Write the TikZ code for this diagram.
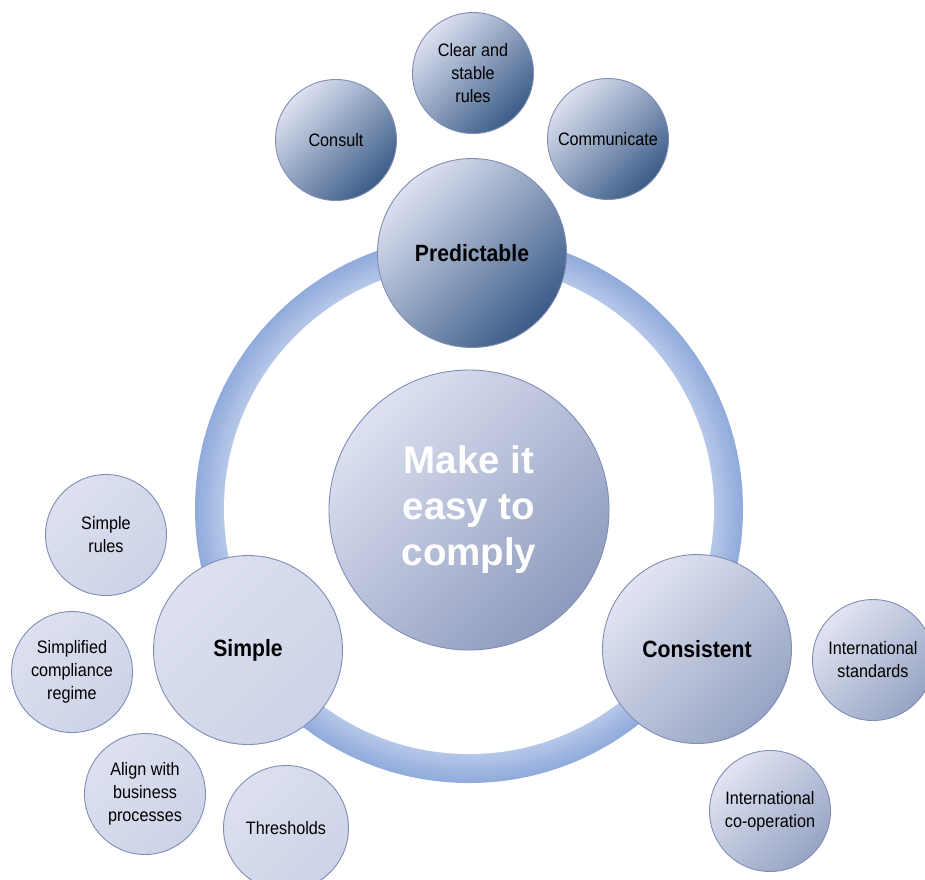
\documentclass[tikz,border=0pt]{standalone}
\usepackage{fontspec}
\setmainfont{Liberation Sans}[FakeStretch=0.9]
\newfontfamily\widefont{Liberation Sans}
\definecolor{bordc}{HTML}{7F8DB5}
\definecolor{dkA}{HTML}{DDE1F1}
\definecolor{dkB}{HTML}{3B5C87}
\definecolor{ctA}{HTML}{DDE1F1}
\definecolor{ctB}{HTML}{8E9BBE}
\definecolor{csA}{HTML}{E1E4F2}
\definecolor{csB}{HTML}{97A4C3}
\definecolor{smA}{HTML}{DCE0EF}
\definecolor{smB}{HTML}{CDD3E7}
\definecolor{ringI}{HTML}{B6C8E9}
\definecolor{ringO}{HTML}{91ABDB}
\begin{document}
\begin{tikzpicture}[x=1pt,y=-1pt]
\tikzset{
  bub/.style={circle, draw=bordc, line width=0.9pt, inner sep=0pt, align=center, text=black},
  bigtxt/.style={font=\fontsize{23.5}{28}\selectfont\bfseries},
  smalltxt/.style={font=\fontsize{18}{23}\selectfont},
  darkfill/.style={top color=dkA, bottom color=dkB, shading angle=45},
  centfill/.style={top color=ctA, bottom color=ctB, shading angle=45},
  consfill/.style={top color=csA, bottom color=csB, shading angle=45},
  simpfill/.style={top color=smA, bottom color=smB, shading angle=45},
  big/.style={bub, minimum size=189pt, bigtxt},
  small/.style={bub, minimum size=121pt, smalltxt}
}
\useasboundingbox (0,0) rectangle (925,879);
% ring: stacked disks from outer (dark) to inner (light), then white hole
\coordinate (rc) at (469,509);
\foreach \k in {0,...,14}{
  \pgfmathsetmacro{\rr}{274-2*\k}
  \pgfmathsetmacro{\pp}{100-\k*100/14}
  \fill[color=ringO!\pp!ringI] (rc) circle (\rr pt);
}
\fill[white] (rc) circle (245pt);
% center
\node[bub, minimum size=280pt, centfill, text=white, font=\widefont\fontsize{38.5}{46}\selectfont\bfseries] (ctr) at (469,510) {Make it\\easy to\\comply};
% major
\node[big, darkfill] (pred) at (472,253) {Predictable};
\node[big, consfill] (cons) at (697,649) {Consistent};
\node[big, simpfill] (simp) at (248,650) {Simple};
% small - predictable
\node[small, darkfill] (consult) at (336,140) {Consult};
\node[small, darkfill] (clear) at (473,73) {Clear and\\stable\\rules};
\node[small, darkfill] (comm) at (608,139) {Communicate};
% small - consistent
\node[small, consfill] (intst) at (873,660) {International\\standards};
\node[small, consfill] (intco) at (770,811) {International\\co-operation};
% small - simple
\node[small, simpfill] (srules) at (106,535) {Simple\\rules};
\node[small, simpfill] (sregime) at (72,672) {Simplified\\compliance\\regime};
\node[small, simpfill] (align) at (145,794) {Align with\\business\\processes};
\node[small, simpfill, minimum size=125pt] (thresh) at (286,828) {Thresholds};
\end{tikzpicture}
\end{document}
